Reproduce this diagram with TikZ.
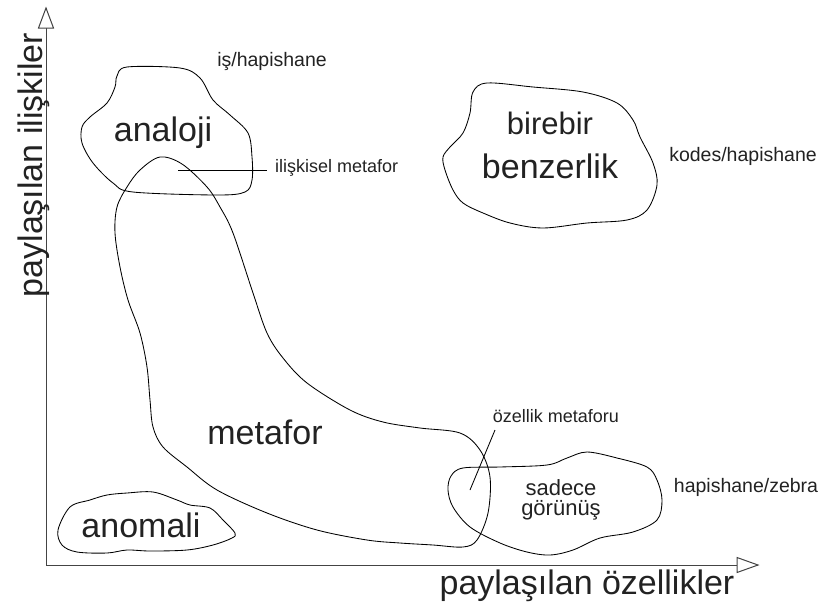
\documentclass[tikz,border=0pt]{standalone}
\usepackage{fontspec}
\setmainfont{Liberation Sans}
\definecolor{txt}{HTML}{222222}
\definecolor{ax}{HTML}{444444}
\begin{document}
\begin{tikzpicture}[x=1pt,y=-1pt,
  blob/.style={draw=black, line width=0.85pt, smooth cycle, tension=0.55},
  axisline/.style={draw=ax, line width=1pt},
  big/.style={text=txt, inner sep=0pt, font=\fontsize{34}{38}\selectfont},
  mid/.style={text=txt, inner sep=0pt, font=\fontsize{22}{20}\selectfont, align=center},
  small/.style={text=txt, inner sep=0pt, font=\fontsize{19.5}{22}\selectfont},
  leader/.style={draw=black, line width=0.85pt}]
\useasboundingbox (0,0) rectangle (826,605);

% axes
\coordinate (O) at (46,565);
\coordinate (ytip) at (46,8);
\coordinate (xtip) at (758,565);
\draw[axisline] (O) -- (ytip);
\draw[axisline] (O) -- (xtip);
\draw[axisline, fill=white] (ytip) -- (38.5,28) -- (53.5,28) -- cycle;
\draw[axisline, fill=white] (xtip) -- (737,557.5) -- (737,572.5) -- cycle;

% analoji blob
\draw[blob] plot coordinates {(127,67) (180,68) (200,78) (213,100) (230,115) (248,133)
  (252,157) (252,180) (245,192) (217,195) (133,192) (113,183) (93,163) (82,143) (82,127)
  (90,117) (107,103) (115,87) (117,76)};

% metafor blob
\draw[blob] plot coordinates {(160,157) (182,164) (207,187) (220,207) (233,233) (253,293)
  (267,333) (283,358) (307,383) (350,410) (383,422) (420,428) (460,433) (480,450)
  (490,477) (488,513) (477,540) (463,547) (433,545) (400,543) (367,540) (317,530)
  (267,513) (217,490) (187,467) (163,447) (153,427) (150,400) (147,367) (140,333)
  (128,300) (120,267) (115,233) (117,207) (127,187) (140,170)};

% benzerlik blob
\draw[blob] plot coordinates {(487,83) (533,87) (583,92) (617,103) (633,120) (640,137)
  (653,163) (657,185) (647,210) (627,220) (587,223) (543,228) (510,223) (483,213)
  (463,203) (453,190) (445,170) (443,157) (450,147) (463,133) (470,113) (473,92)};

% sadece gorunus blob
\draw[blob] plot coordinates {(463,468) (500,467) (547,465) (567,458) (587,452) (617,458)
  (647,467) (657,480) (662,500) (657,520) (633,532) (600,538) (573,550) (550,555)
  (527,552) (500,543) (470,527) (453,507) (448,490) (451,476)};

% anomali blob
\draw[blob] plot coordinates {(70,507) (90,500) (107,495) (127,493) (153,492) (177,500)
  (190,505) (210,508) (223,520) (235,533) (232,538) (213,545) (187,550) (150,551)
  (127,550) (107,553) (77,552) (62,545) (58,530)};

% labels
\node[big] (analoji) at (163,133) {analoji};
\node[big] (metafor) at (265,432) {metafor};
\node[big] (anomali) at (141,525) {anomali};
\node[text=txt, inner sep=0pt, font=\fontsize{31}{34}\selectfont] (birebir) at (550,123) {birebir};
\node[big] (benzerlik) at (550,166) {benzerlik};
\node[mid] (sadece) at (561,500) {sadece\\görünüş};

\node[small] (is) at (272,62) {iş/hapishane};
\node[small] (kodes) at (743,156) {kodes/hapishane};
\node[small] (zebra) at (746,487) {hapishane/zebra};
\node[text=txt, inner sep=0pt, font=\fontsize{18}{20}\selectfont, anchor=west] (iliskisel) at (275,168) {ilişkisel metafor};
\node[text=txt, inner sep=0pt, font=\fontsize{18}{20}\selectfont] (ozellikmet) at (556,416) {özellik metaforu};

\coordinate (ilp) at (178,170);
\coordinate (ile) at (267,170);
\draw[leader] (ilp) -- (ile);
\coordinate (ozp) at (470,490);
\coordinate (oze) at (495,430);
\draw[leader] (ozp) -- (oze);

% axis titles
\node[big, anchor=base] (xlab) at (587,594) {paylaşılan özellikler};
\node[big, anchor=base, rotate=90] (ylab) at (42,165) {paylaşılan ilişkiler};
\end{tikzpicture}
\end{document}
